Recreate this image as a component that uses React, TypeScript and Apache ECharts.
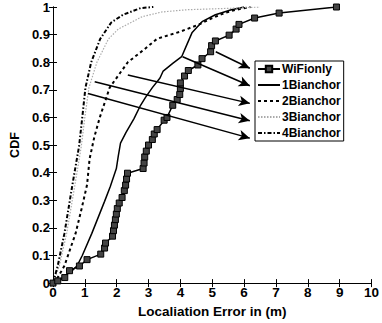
import React, { useEffect, useRef } from "react";
import * as echarts from "echarts";

const seriesNames = ["WiFionly", "1Bianchor", "2Bianchor", "3Bianchor", "4Bianchor"];

const wifiOnly: [number, number][] = [
  [0, 0], [0.15, 0.008], [0.37, 0.02], [0.52, 0.045], [0.83, 0.062], [1.07, 0.085], [1.5, 0.105],
  [1.62, 0.127], [1.65, 0.145], [1.87, 0.17], [1.9, 0.19], [1.93, 0.21], [1.96, 0.23], [1.99, 0.25],
  [2.02, 0.27], [2.08, 0.29], [2.17, 0.31], [2.24, 0.335], [2.28, 0.355], [2.31, 0.377], [2.34, 0.398],
  [2.83, 0.415], [2.86, 0.435], [2.88, 0.457], [2.93, 0.478], [3.0, 0.5], [3.12, 0.52], [3.18, 0.54],
  [3.27, 0.556], [3.49, 0.59], [3.58, 0.6], [3.76, 0.644], [3.9, 0.665], [3.98, 0.683], [4.0, 0.705],
  [4.0, 0.725], [4.13, 0.75], [4.25, 0.77], [4.55, 0.79], [4.68, 0.813], [4.95, 0.838], [4.98, 0.86],
  [5.1, 0.877], [5.53, 0.898], [5.75, 0.92], [5.84, 0.937], [6.33, 0.96], [7.1, 0.978], [8.9, 1.0],
];

const bianchor1: [number, number][] = [
  [0, 0], [0.3, 0.02], [0.6, 0.045], [0.76, 0.063], [0.92, 0.1], [1.22, 0.18], [1.62, 0.296],
  [1.8, 0.35], [1.99, 0.415], [2.05, 0.46], [2.12, 0.507], [2.29, 0.545], [2.54, 0.595], [2.75, 0.644],
  [2.9, 0.672], [3.12, 0.708], [3.36, 0.743], [3.46, 0.768], [3.76, 0.796], [4.04, 0.82], [4.19, 0.86],
  [4.37, 0.908], [4.68, 0.947], [5.1, 0.972], [5.6, 0.99], [6.0, 1.0],
];

const bianchor2: [number, number][] = [
  [0, 0], [0.15, 0.02], [0.36, 0.063], [0.71, 0.18], [0.9, 0.27], [1.07, 0.356], [1.15, 0.45],
  [1.3, 0.53], [1.47, 0.6], [1.78, 0.708], [2.1, 0.76], [2.35, 0.8], [2.85, 0.845], [3.27, 0.885],
  [3.98, 0.91], [4.59, 0.937], [5.0, 0.96], [5.4, 0.979], [5.75, 0.99], [6.2, 1.0],
];

const bianchor3: [number, number][] = [
  [0, 0], [0.2, 0.063], [0.43, 0.18], [0.69, 0.356], [0.89, 0.496], [1.0, 0.6], [1.13, 0.708],
  [1.38, 0.8], [1.74, 0.884], [2.05, 0.92], [2.45, 0.944], [2.8, 0.965], [3.42, 0.982], [4.2, 0.99],
  [5.5, 0.995], [6.5, 1.0],
];

const bianchor4: [number, number][] = [
  [0, 0], [0.15, 0.063], [0.36, 0.18], [0.61, 0.356], [0.82, 0.496], [0.92, 0.6], [1.02, 0.708],
  [1.2, 0.8], [1.48, 0.884], [1.83, 0.944], [2.2, 0.972], [2.75, 0.996], [3.15, 1.0],
];

// arrow annotations: [start x, start y] -> [end x, end y] in data units
const arrowStarts: [number, number][] = [
  [5.11, 0.838], [4.07, 0.82], [2.35, 0.754], [1.31, 0.729], [1.1, 0.687],
];
const arrowEnds: [number, number][] = [
  [6.18, 0.778], [6.18, 0.715], [6.18, 0.651], [6.18, 0.588], [6.18, 0.525],
];

const xTicks = [0, 1, 2, 3, 4, 5, 6, 7, 8, 9, 10];
const FONT = "'Liberation Sans', Arial, Helvetica, sans-serif";

export default function App() {
  const ref = useRef<HTMLDivElement>(null);
  useEffect(() => {
    if (!ref.current) return;
    const chart = echarts.init(ref.current, undefined, { renderer: "svg" });
    const lineBase = { type: "line", showSymbol: false, symbol: "none", smooth: false, z: 3 };
    chart.setOption({
      animation: false,
      backgroundColor: "#fff",
      grid: { left: 50, right: 5, top: 7, bottom: 32, show: false },
      legend: {
        data: seriesNames.map((n, i) =>
          i === 0 ? { name: n } : { name: n, itemStyle: { opacity: 0, borderWidth: 0 } }
        ),
        orient: "vertical",
        left: 255,
        top: 61,
        padding: [2, 3, 2, 2],
        itemGap: 4,
        itemWidth: 22,
        itemHeight: 8,
        borderColor: "#000",
        borderWidth: 1,
        backgroundColor: "#fff",
        textStyle: { fontFamily: FONT, fontWeight: "bold", fontSize: 12, color: "#000", padding: [0, 0, 0, -3] },
        z: 10,
      },
      xAxis: [
        {
          type: "value",
          min: 0,
          max: 10,
          interval: 1,
          name: "Localiation Error in (m)",
          nameLocation: "middle",
          nameGap: 14,
          nameTextStyle: { fontFamily: FONT, fontWeight: "bold", fontSize: 13.5, color: "#000" },
          axisLine: { lineStyle: { color: "#000", width: 1 } },
          axisTick: { inside: true, length: 4, lineStyle: { color: "#000" } },
          axisLabel: {
            fontFamily: FONT, fontWeight: "bold", fontSize: 13.5, color: "#000", margin: 2,
            formatter: (v: number) => (xTicks.includes(v) ? String(v) : ""),
          },
          splitLine: { show: false },
        },
        {
          type: "value",
          position: "top",
          min: 0,
          max: 10,
          interval: 1,
          axisLine: { lineStyle: { color: "#000", width: 1 } },
          axisTick: { inside: true, length: 4, lineStyle: { color: "#000" } },
          axisLabel: { show: false },
          splitLine: { show: false },
        },
      ],
      yAxis: [
        {
          type: "value",
          min: 0,
          max: 1,
          interval: 0.1,
          name: "CDF",
          nameLocation: "middle",
          nameGap: 23,
          nameTextStyle: { fontFamily: FONT, fontWeight: "bold", fontSize: 12.5, color: "#000" },
          axisLine: { show: true, lineStyle: { color: "#000", width: 1 } },
          axisTick: { show: true, inside: true, length: 4, lineStyle: { color: "#000" } },
          axisLabel: {
            fontFamily: FONT, fontWeight: "bold", fontSize: 13, color: "#000", margin: 3,
            formatter: (v: number) => (Math.abs(v) < 1e-9 ? "0" : Math.abs(v - 1) < 1e-9 ? "1" : v.toFixed(1)),
          },
          splitLine: { show: false },
        },
        {
          type: "value",
          position: "right",
          min: 0,
          max: 1,
          interval: 0.1,
          axisLine: { show: true, lineStyle: { color: "#000", width: 1 } },
          axisTick: { show: true, inside: true, length: 4, lineStyle: { color: "#000" } },
          axisLabel: { show: false },
          splitLine: { show: false },
        },
      ],
      series: [
        {
          ...lineBase,
          name: "WiFionly",
          data: wifiOnly,
          showSymbol: true,
          symbol: "rect",
          symbolSize: 6,
          itemStyle: { color: "#444", borderColor: "#000", borderWidth: 1 },
          lineStyle: { color: "#000", width: 1.5 },
        },
        { ...lineBase, name: "1Bianchor", data: bianchor1, itemStyle: { color: "#000" }, lineStyle: { color: "#000", width: 1.5 } },
        { ...lineBase, name: "2Bianchor", data: bianchor2, itemStyle: { color: "#000" }, lineStyle: { color: "#000", width: 2, type: [3, 3] } },
        { ...lineBase, name: "3Bianchor", data: bianchor3, itemStyle: { color: "#aaa" }, lineStyle: { color: "#aaa", width: 1.2, type: [1.5, 1.5] } },
        { ...lineBase, name: "4Bianchor", data: bianchor4, itemStyle: { color: "#000" }, lineStyle: { color: "#000", width: 2, type: [4, 2, 1.5, 2] } },
        {
          type: "line",
          data: [],
          silent: true,
          markLine: {
            silent: true,
            symbol: ["none", "arrow"],
            symbolSize: [8, 11],
            label: { show: false },
            lineStyle: { color: "#000", width: 1.5, type: "solid" },
            emphasis: { disabled: true },
            data: arrowStarts.map((s, i) => [
              { coord: s },
              { coord: arrowEnds[i] },
            ]),
          },
        },
      ],
    });
    return () => chart.dispose();
  }, []);
  return (
    <div
      ref={ref}
      style={{ position: "fixed", left: 0, top: 0, width: 382, height: 323, background: "#fff" }}
    />
  );
}
